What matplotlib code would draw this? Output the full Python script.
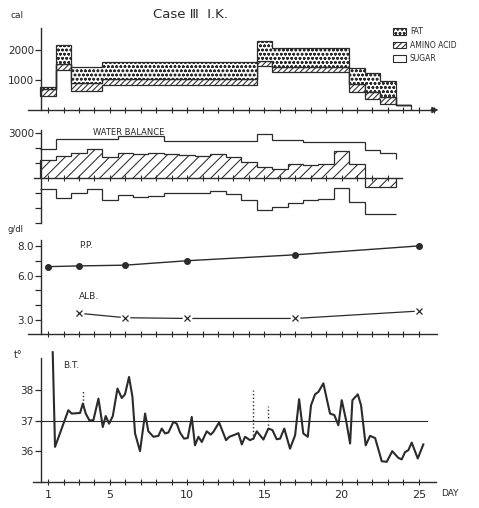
import numpy as np
import matplotlib
matplotlib.use("Agg")
import matplotlib.pyplot as plt
from matplotlib.patches import Patch

# ---- values ----
# calorie intake per day (days 1..24), stacked sugar / amino acid / fat
sugar = [450, 1320, 630, 630] + [820] * 10 + [1470] + [1260] * 5 + [600, 370, 210, 150]
amino = [250, 220, 270, 270] + [210] * 10 + [170] + [170] * 5 + [250, 220, 220, 0]
fat = [80, 640, 530, 530] + [570] * 10 + [650] + [630] * 5 + [560, 640, 530, 0]

# water balance per day (days 1..23), ml
intake = [1950, 2600, 2600, 2600, 2600, 2840, 2840, 2840, 2490, 2490, 2490, 2490, 2490, 2490,
          2930, 2550, 2550, 2420, 2420, 2420, 2420, 1890, 1670]
intake_end = 1300
output = [-700, -1333, -980, -733, -1447, -1090, -1220, -1150, -980, -980, -980, -840, -1047,
          -1447, -2130, -1910, -1620, -1430, -1350, -650, -1550, -2400, -2400]
balance = [1220, 1480, 1700, 1930, 1450, 1710, 1620, 1710, 1600, 1560, 1500, 1650, 1420,
           1080, 780, 640, 960, 900, 980, 1820, 980, -560, -560]

# plasma protein / albumin, g/dl
pp_days = [1, 3, 6, 10, 17, 25]
pp = [6.6, 6.65, 6.7, 7.0, 7.4, 8.0]
alb_days = [3, 6, 10, 17, 25]
alb = [3.45, 3.15, 3.1, 3.1, 3.6]

# body temperature
bt_day = [1.3, 1.45, 2.31, 2.53, 3.07, 3.25, 3.44, 3.67, 3.93, 4.26, 4.54, 4.73, 4.95, 5.19,
          5.49, 5.77, 5.98, 6.24, 6.46, 6.63, 6.95, 7.28, 7.49, 7.82, 8.14, 8.36, 8.57, 8.79,
          9.11, 9.33, 9.54, 9.80, 10.04, 10.30, 10.51, 10.73, 10.95, 11.27, 11.53, 11.70,
          12.07, 12.52, 12.73, 13.10, 13.32, 13.54, 13.75, 14.07, 14.29, 14.51, 14.94, 15.26,
          15.52, 15.80, 16.02, 16.29, 16.66, 16.99, 17.25, 17.52, 17.81, 18.02, 18.28, 18.50,
          18.82, 19.25, 19.53, 19.79, 20.01, 20.29, 20.55, 20.70, 21.05, 21.26, 21.56, 21.84,
          22.17, 22.60, 22.92, 23.28, 23.67, 23.89, 24.11, 24.32, 24.54, 24.93, 25.29]
bt = [39.25, 36.15, 37.35, 37.24, 37.26, 37.57, 37.24, 37.02, 37.02, 37.73, 36.80, 37.16,
      36.91, 37.16, 38.06, 37.75, 37.87, 38.44, 37.79, 36.59, 36.01, 37.24, 36.66, 36.48,
      36.51, 36.75, 36.59, 36.62, 36.97, 36.91, 36.62, 36.42, 36.44, 37.13, 36.20, 36.48,
      36.31, 36.66, 36.55, 36.64, 36.95, 36.37, 36.48, 36.55, 36.60, 36.23, 36.48, 36.37,
      36.42, 36.66, 36.39, 36.75, 36.70, 36.40, 36.42, 36.75, 36.09, 36.53, 37.71, 36.59,
      36.48, 37.51, 37.87, 37.95, 38.23, 37.24, 37.19, 36.86, 37.68, 37.02, 36.26, 37.68,
      37.87, 37.51, 36.20, 36.51, 36.44, 35.68, 35.66, 36.01, 35.79, 35.74, 35.98, 36.04,
      36.29, 35.77, 36.23]
# dotted spikes (single high readings)
spike_days = [3.25, 14.29, 15.26]
spike_lo = [37.57, 36.42, 36.75]
spike_hi = [38.0, 38.0, 37.48]

INK = "#2b2b2b"
plt.rcParams.update({
    "font.family": "DejaVu Sans",
    "text.color": INK,
    "axes.edgecolor": INK,
    "xtick.color": INK,
    "ytick.color": INK,
    "hatch.color": INK,
    "hatch.linewidth": 0.75,
})

W, H = 479, 508
X0, X1 = 28, 440
XLIM = (-0.3, 26.37)
YAXIS_AT = 0.53

fig = plt.figure(figsize=(W / 100, H / 100), dpi=100)


def px_axes(top, bottom):
    return fig.add_axes([X0 / W, 1 - bottom / H, (X1 - X0) / W, (bottom - top) / H])


def ftext(x, y, s, **kw):
    fig.text(x / W, 1 - y / H, s, **kw)


def frame(ax, ylim, xb=(XLIM[0], XLIM[1]), days=range(1, 26)):
    ax.set_xlim(XLIM)
    ax.set_ylim(ylim)
    ax.patch.set_visible(False)
    for s in ("top", "right"):
        ax.spines[s].set_visible(False)
    ax.spines["left"].set_position(("data", YAXIS_AT))
    ax.spines["left"].set_bounds(*ylim)
    ax.spines["bottom"].set_bounds(*xb)
    for s in ("left", "bottom"):
        ax.spines[s].set_linewidth(1.0)
    ax.set_xticks(list(days))
    ax.tick_params(axis="x", direction="inout", length=5, width=0.8, labelbottom=False)
    ax.tick_params(axis="y", direction="out", length=4, width=0.9, labelsize=7.5, pad=1)


# ---- calories ----
ax1 = px_axes(28, 110)
frame(ax1, (0, 2733), xb=(-0.3, 25.8), days=range(1, 27))
edges = np.arange(0.5, len(sugar) + 1)
s = np.array(sugar)
sa = s + np.array(amino)
saf = sa + np.array(fat)
ax1.stairs(sa, edges, baseline=s, fill=True, facecolor="white", edgecolor=INK,
           hatch="//////", lw=0.9)
ax1.stairs(saf, edges, baseline=sa, fill=True, facecolor="white", edgecolor=INK,
           hatch="oooo", lw=0.9)
ax1.vlines(edges[-1], 0, sugar[-1], color=INK, lw=0.9)
ax1.set_yticks([1000, 2000])
ax1.set_yticklabels(["1000", "2000"])
ax1.annotate("", xy=(26.45, 0), xytext=(25.6, 0), annotation_clip=False,
             arrowprops=dict(arrowstyle="-|>", color=INK, lw=1, mutation_scale=9))
ftext(17, 15, "cal", fontsize=6.5, ha="center", va="center")

handles = [
    Patch(facecolor="white", edgecolor=INK, hatch="oooo", lw=0.8, label="FAT"),
    Patch(facecolor="white", edgecolor=INK, hatch="//////", lw=0.8, label="AMINO ACID"),
    Patch(facecolor="white", edgecolor=INK, lw=0.8, label="SUGAR"),
]
fig.legend(handles=handles, loc="upper left", bbox_to_anchor=(393 / W, 1 - 27 / H),
           frameon=False, fontsize=5.5, handlelength=1.7, handleheight=0.9,
           labelspacing=0.6, handletextpad=0.5, borderaxespad=0, borderpad=0)

# ---- water balance ----
ax2 = px_axes(130, 223.3)
frame(ax2, (-3000, 3220), xb=(0.1, 23.9), days=range(1, 24))
ax2.spines["bottom"].set_position(("data", 0))
edges_w = np.arange(0.5, len(intake) + 1)
ax2.stairs(balance, edges_w, baseline=0, fill=True, facecolor="white", edgecolor=INK,
           hatch="///", lw=0.9)
ax2.stairs(intake, edges_w, baseline=None, color=INK, lw=0.9)
ax2.vlines(edges_w[-1], intake_end, intake[-1], color=INK, lw=0.9)
ax2.stairs(output, edges_w, baseline=None, color=INK, lw=0.9)
ax2.set_yticks([-3000, -2000, -1000, 1000, 2000, 3000])
ax2.set_yticklabels(["", "", "", "", "", "3000"])
ax2.text(3.9, 3050, "WATER BALANCE", fontsize=6, va="center")

# ---- plasma protein ----
ax3 = px_axes(240, 334)
frame(ax3, (2.05, 8.4), xb=(-0.3, 26.2))
ax3.plot(pp_days, pp, "-o", color=INK, lw=1.0, ms=4)
ax3.plot(alb_days, alb, "-", color=INK, lw=0.9)
ax3.plot(alb_days, alb, "o", ms=7, mfc="white", mec="none")
ax3.plot(alb_days, alb, "x", color=INK, ms=4, mew=0.9)
ax3.set_yticks([3, 4, 5, 6, 7, 8])
ax3.set_yticklabels(["3.0", "", "", "6.0", "", "8.0"])
ax3.text(3.0, 8.05, "P.P.", fontsize=6.5, va="center")
ax3.text(3.0, 4.6, "ALB.", fontsize=6.5, va="center")
ftext(15, 230, "g/dl", fontsize=6, ha="center", va="center")

# ---- body temperature ----
ax4 = px_axes(358.3, 482)
frame(ax4, (35, 39.05), xb=(0.0, 26.1))
ax4.plot([YAXIS_AT, 25.5], [37, 37], color=INK, lw=0.8)
ax4.plot(bt_day, bt, color=INK, lw=1.5, clip_on=False, solid_joinstyle="round")
ax4.vlines(spike_days, spike_lo, spike_hi, color=INK, lw=1.0, linestyles=":")
ax4.set_yticks([36, 37, 38])
ax4.set_yticklabels(["36", "37", "38"])
day_labels = ["1" if d == 1 else (str(d) if d % 5 == 0 else "") for d in range(1, 26)]
ax4.set_xticklabels(day_labels)
ax4.tick_params(axis="x", labelbottom=True, labelsize=8, pad=3)
ax4.text(2.0, 38.8, "B.T.", fontsize=6.5, va="center")
ftext(18, 355, "t°", fontsize=7, ha="center", va="center")
ftext(450, 493, "DAY", fontsize=6.5, ha="center", va="center")

ftext(190, 15, "Case \u2162  I.K.", fontsize=9.5, ha="center", va="center")

fig.savefig("out.png", dpi=100)
